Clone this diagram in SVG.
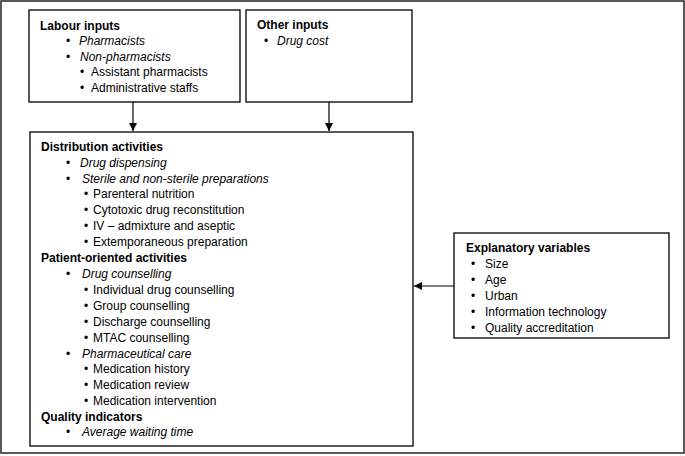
<svg xmlns="http://www.w3.org/2000/svg" width="685" height="456" viewBox="0 0 685 456">
<defs>
<marker id="ah" viewBox="0 0 10 10" refX="10" refY="5" markerWidth="8" markerHeight="8" markerUnits="userSpaceOnUse" orient="auto">
<path d="M0,0 L10,5 L0,10 Z" fill="#000"/>
</marker>
<style>
.box{fill:#fff;stroke:#000;stroke-width:1.3}
text{font-family:"Liberation Sans",Arial,sans-serif;font-size:12px;fill:#000}
.h{font-weight:bold}
.i{font-style:italic}
.c{stroke:#000;stroke-width:1.2;fill:none;marker-end:url(#ah)}
</style>
</defs>
<rect x="1" y="1" width="683" height="452" fill="#fff" stroke="#222" stroke-width="1.5"/>
<g id="labour">
<rect class="box" x="29" y="10" width="211" height="92"/>
<text class="h" x="40" y="30">Labour inputs</text>
<text x="66" y="45">•</text><text class="i" x="79" y="45">Pharmacists</text>
<text x="66" y="61">•</text><text class="i" x="80" y="61">Non-pharmacists</text>
<text x="80" y="76">•</text><text x="91" y="76">Assistant pharmacists</text>
<text x="80" y="92">•</text><text x="91" y="92">Administrative staffs</text>
</g>
<g id="other">
<rect class="box" x="246" y="10" width="166" height="92"/>
<text class="h" x="257" y="29">Other inputs</text>
<text x="264" y="45">•</text><text class="i" x="277" y="45">Drug cost</text>
</g>
<g id="activities">
<rect class="box" x="30" y="132" width="383" height="314"/>
<text class="h" x="41" y="151">Distribution activities</text>
<text x="66" y="167">•</text><text class="i" x="80" y="167">Drug dispensing</text>
<text x="66" y="183">•</text><text class="i" x="82" y="183">Sterile and non-sterile preparations</text>
<text x="84" y="198">•</text><text x="93" y="198">Parenteral nutrition</text>
<text x="84" y="214">•</text><text x="93" y="214">Cytotoxic drug reconstitution</text>
<text x="84" y="230">•</text><text x="93" y="230">IV – admixture and aseptic</text>
<text x="84" y="246">•</text><text x="93" y="246">Extemporaneous preparation</text>
<text class="h" x="41" y="262">Patient-oriented activities</text>
<text x="66" y="278">•</text><text class="i" x="82" y="278">Drug counselling</text>
<text x="84" y="294">•</text><text x="93" y="294">Individual drug counselling</text>
<text x="84" y="310">•</text><text x="93" y="310">Group counselling</text>
<text x="84" y="326">•</text><text x="93" y="326">Discharge counselling</text>
<text x="84" y="342">•</text><text x="93" y="342">MTAC counselling</text>
<text x="66" y="358">•</text><text class="i" x="82" y="358">Pharmaceutical care</text>
<text x="84" y="373">•</text><text x="93" y="373">Medication history</text>
<text x="84" y="389">•</text><text x="93" y="389">Medication review</text>
<text x="84" y="405">•</text><text x="93" y="405">Medication intervention</text>
<text class="h" x="41" y="421">Quality indicators</text>
<text x="66" y="436">•</text><text class="i" x="82" y="436">Average waiting time</text>
</g>
<g id="explanatory">
<rect class="box" x="454" y="233" width="215" height="105"/>
<text class="h" x="466" y="252">Explanatory variables</text>
<text x="471" y="268">•</text><text x="485" y="268">Size</text>
<text x="471" y="284">•</text><text x="485" y="284">Age</text>
<text x="471" y="300">•</text><text x="485" y="300">Urban</text>
<text x="471" y="316">•</text><text x="485" y="316">Information technology</text>
<text x="471" y="332">•</text><text x="485" y="332">Quality accreditation</text>
</g>
<g id="connectors">
<line class="c" x1="133" y1="102" x2="133" y2="131"/>
<line class="c" x1="329" y1="102" x2="329" y2="131"/>
<line class="c" x1="454" y1="286" x2="414" y2="286"/>
</g>
</svg>
